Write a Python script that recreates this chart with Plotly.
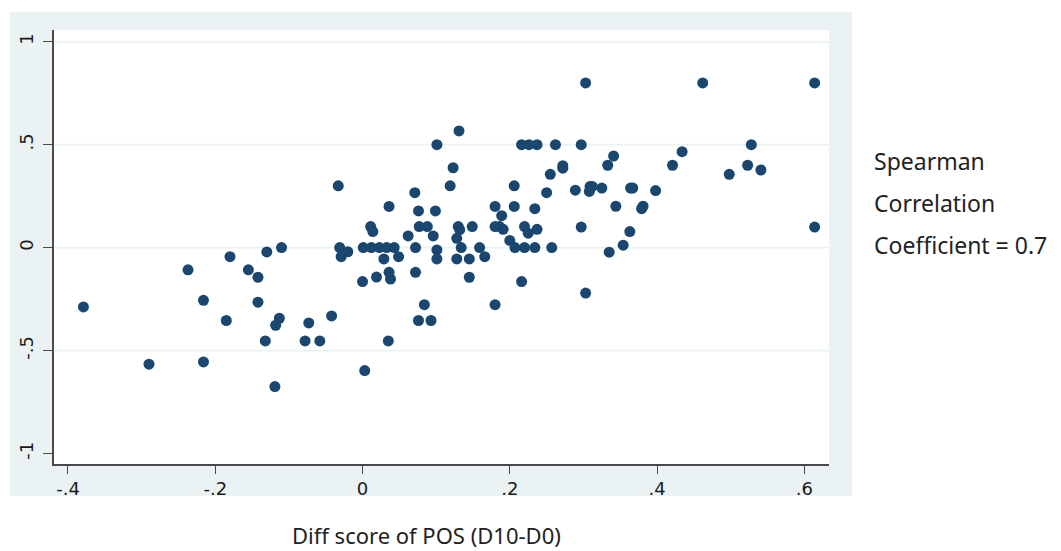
import plotly.graph_objects as go

# Paired change scores: POS difference (x) against the outcome difference (y)
pos_diff = [
    -0.379, -0.290, -0.237, -0.216, -0.216, -0.185, -0.180, -0.155, -0.142, -0.142,
    -0.132, -0.130, -0.113, -0.118, -0.119, -0.110, -0.078, -0.073, -0.058, -0.042,
    -0.033, -0.031, -0.020, -0.029,
    0.001, 0.012, 0.023, 0.033, 0.043, 0.011, 0.014, 0.000, 0.003, 0.019,
    0.029, 0.036, 0.038, 0.035, 0.049, 0.036, 0.071, 0.062, 0.072, 0.072,
    0.076, 0.099, 0.077, 0.088, 0.096, 0.101, 0.101, 0.084, 0.076, 0.093,
    0.101, 0.119, 0.123, 0.131, 0.130, 0.132, 0.149, 0.128, 0.134, 0.159,
    0.128, 0.145, 0.166, 0.145, 0.180, 0.189, 0.180, 0.186, 0.191, 0.200,
    0.180, 0.206, 0.206, 0.207, 0.216, 0.216, 0.226, 0.237, 0.220, 0.225,
    0.237, 0.220, 0.234, 0.234, 0.250, 0.255, 0.257, 0.262, 0.272, 0.272,
    0.289, 0.297, 0.297, 0.303, 0.303, 0.309, 0.312, 0.308, 0.325, 0.333,
    0.341, 0.335, 0.344, 0.354, 0.363, 0.364, 0.367, 0.381, 0.379, 0.398,
    0.421, 0.434, 0.462, 0.498, 0.523, 0.528, 0.541, 0.614, 0.614,
]
outcome_diff = [
    -0.288, -0.566, -0.108, -0.256, -0.555, -0.354, -0.044, -0.108, -0.144, -0.265,
    -0.453, -0.021, -0.343, -0.377, -0.675, 0.000, -0.453, -0.366, -0.453, -0.332,
    0.300, 0.000, -0.020, -0.044,
    0.000, 0.000, 0.000, 0.000, 0.000, 0.102, 0.078, -0.165, -0.597, -0.143,
    -0.055, -0.120, -0.153, -0.453, -0.044, 0.200, 0.267, 0.057, 0.000, -0.120,
    0.178, 0.178, 0.102, 0.102, 0.057, -0.011, -0.055, -0.277, -0.354, -0.354,
    0.500, 0.300, 0.388, 0.567, 0.102, 0.087, 0.102, 0.045, 0.000, 0.000,
    -0.055, -0.055, -0.044, -0.144, 0.200, 0.155, 0.102, 0.102, 0.089, 0.035,
    -0.277, 0.300, 0.200, 0.000, -0.165, 0.500, 0.500, 0.500, 0.102, 0.070,
    0.089, 0.000, 0.000, 0.189, 0.267, 0.356, 0.000, 0.500, 0.398, 0.386,
    0.279, 0.500, 0.100, -0.221, 0.800, 0.297, 0.297, 0.273, 0.289, 0.400,
    0.445, -0.022, 0.201, 0.012, 0.078, 0.289, 0.289, 0.201, 0.189, 0.277,
    0.400, 0.466, 0.800, 0.356, 0.400, 0.500, 0.377, 0.800, 0.100,
]

x_ticks = [-0.4, -0.2, 0, 0.2, 0.4, 0.6]
x_tick_text = ["-.4", "-.2", "0", ".2", ".4", ".6"]
y_ticks = [-1, -0.5, 0, 0.5, 1]
y_tick_text = ["-1", "-.5", "0", ".5", "1"]
y_grid = [-0.5, 0, 0.5, 1]

stata_navy = "#1a476f"
region_bg = "#eaf2f3"
axis_col = "#4a4a4a"
text_col = "#222222"

fig = go.Figure()
fig.add_trace(go.Scatter(
    x=pos_diff, y=outcome_diff, mode="markers",
    marker=dict(color=stata_navy, size=11, line=dict(width=0)),
    hoverinfo="x+y", showlegend=False,
))

shapes = [
    # light graph-region panel around the plot area
    dict(type="rect", xref="paper", yref="paper",
         x0=-0.0568, x1=1.0297, y0=-0.0737, y1=1.0415,
         fillcolor=region_bg, line=dict(width=0), layer="below"),
    # white plot region on top of the panel
    dict(type="rect", xref="paper", yref="paper", x0=0, x1=1, y0=0, y1=1,
         fillcolor="white", line=dict(width=0), layer="below"),
]
for g in y_grid:
    shapes.append(dict(type="line", xref="paper", yref="y", x0=0, x1=1, y0=g, y1=g,
                       line=dict(color=region_bg, width=1.8), layer="below"))

fig.update_layout(
    width=1061, height=551,
    margin=dict(l=54, r=232, t=30, b=87),
    paper_bgcolor="white", plot_bgcolor="white",
    shapes=shapes,
    font=dict(family="DejaVu Sans, Liberation Sans, sans-serif", color="#1a1a1a"),
    xaxis=dict(
        range=[-0.419, 0.6335], tickvals=x_ticks, ticktext=x_tick_text,
        showgrid=False, zeroline=False, showline=True, linecolor=axis_col, linewidth=1.5,
        ticks="outside", ticklen=8, tickwidth=1.3, tickcolor=axis_col,
        tickfont=dict(size=18), fixedrange=True,
    ),
    yaxis=dict(
        range=[-1.051, 1.057], tickvals=y_ticks, ticktext=y_tick_text, tickangle=-90,
        showgrid=False, zeroline=False, showline=True, linecolor=axis_col, linewidth=1.5,
        ticks="outside", ticklen=9, tickwidth=1.3, tickcolor=axis_col,
        tickfont=dict(size=18), ticklabelstandoff=3, fixedrange=True,
    ),
    annotations=[
        dict(text="Diff score of POS (D10-D0)", xref="paper", yref="paper",
             x=0.481, y=-0.163, xanchor="center", yanchor="middle", showarrow=False,
             font=dict(family="Noto Sans", size=22, color=text_col)),
        dict(text="Spearman", xref="paper", yref="paper", x=1.056, y=0.698,
             xanchor="left", yanchor="middle", showarrow=False,
             font=dict(family="Noto Sans", size=23, color=text_col)),
        dict(text="Correlation", xref="paper", yref="paper", x=1.056, y=0.601,
             xanchor="left", yanchor="middle", showarrow=False,
             font=dict(family="Noto Sans", size=23, color=text_col)),
        dict(text="Coefficient = 0.7", xref="paper", yref="paper", x=1.056, y=0.504,
             xanchor="left", yanchor="middle", showarrow=False,
             font=dict(family="Noto Sans", size=23, color=text_col)),
    ],
)

fig.write_html("out.html")
